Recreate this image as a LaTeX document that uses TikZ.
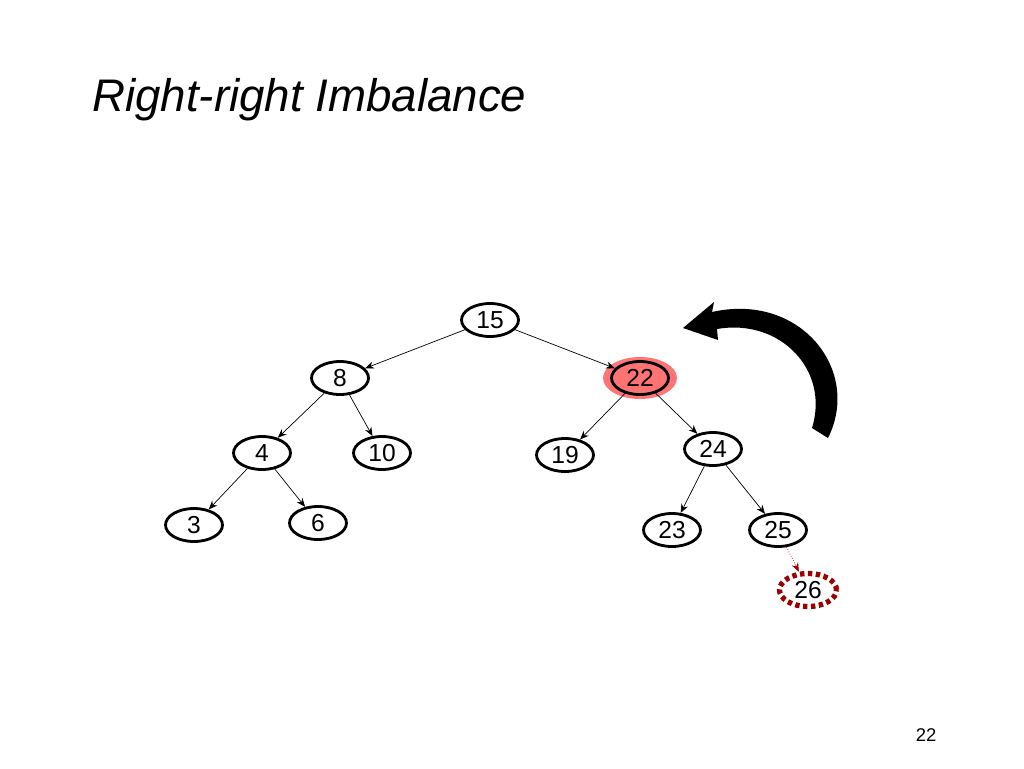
\documentclass[tikz,border=0pt]{standalone}
\usepackage{fontspec}
\setmainfont{Liberation Sans}
\begin{document}
\begin{tikzpicture}[x=0.02cm,y=-0.02cm,
  nd/.style={draw,ellipse,line width=1.6pt,minimum width=1.14cm,minimum height=0.66cm,inner sep=0pt,font=\fontsize{14}{16}\selectfont},
  ed/.style={-{Stealth[length=5pt,width=4pt]},line width=0.4pt}]
\useasboundingbox (0,0) rectangle (1024,768);
\usetikzlibrary{shapes.geometric,arrows.meta}
\node[font=\itshape\fontsize{26}{30}\selectfont,anchor=west] (title) at (86,100) {Right-right Imbalance};
\node[font=\fontsize{10.5}{12}\selectfont] (pg) at (926,735) {22};
\node[nd] (n15) at (490,320) {15};
\node[nd] (n8) at (340,378) {8};
\fill[red!60!white,opacity=0.9] (640,378) ellipse (37 and 21);
\node[nd,fill=red!55!white] (n22) at (640,378) {22};
\node[nd] (n4) at (262,453) {4};
\node[nd] (n10) at (382,453) {10};
\node[nd] (n19) at (565,455) {19};
\node[nd] (n24) at (713,449) {24};
\node[nd] (n3) at (194,525) {3};
\node[nd] (n6) at (318,523) {6};
\node[nd] (n23) at (672,530) {23};
\node[nd] (n25) at (778,530) {25};
\node[nd,draw=red!60!black,line width=3pt,dash pattern=on 2.5pt off 2pt] (n26) at (808,590) {26};
\draw[ed] (n15) -- (n8);
\draw[ed] (n15) -- (n22);
\draw[ed] (n8) -- (n4);
\draw[ed] (n8) -- (n10);
\draw[ed] (n22) -- (n19);
\draw[ed] (n22) -- (n24);
\draw[ed] (n4) -- (n3);
\draw[ed] (n4) -- (n6);
\draw[ed] (n24) -- (n23);
\draw[ed] (n24) -- (n25);
\draw[ed,red!60!black,densely dotted] (n25) -- (n26);
\fill (828,438) .. controls (862,370) and (800,292) .. (712,312)
  -- (714,302) -- (683,328) -- (718,340) -- (717,329)
  .. controls (780,318) and (830,370) .. (812,428) -- cycle;
\end{tikzpicture}
\end{document}
